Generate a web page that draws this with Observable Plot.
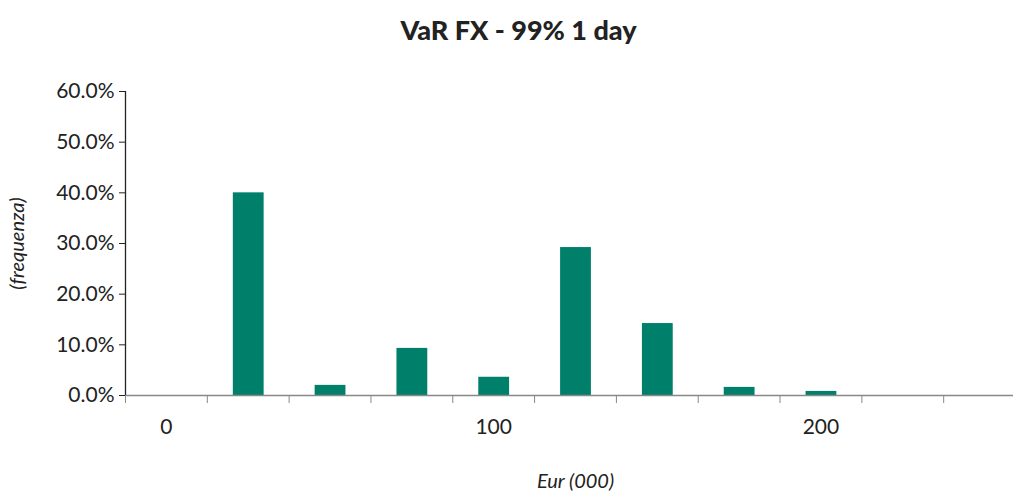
<!DOCTYPE html>
<html>
<head>
<meta charset="utf-8">
<script src="https://cdn.jsdelivr.net/npm/d3@7"></script>
<script src="https://cdn.jsdelivr.net/npm/@observablehq/plot@0.6"></script>
<style>
  html, body { margin: 0; padding: 0; background: #fff; overflow: hidden; }
  #title { height: 60px; line-height: 60px; text-align: center; font-family: Lato, sans-serif; font-weight: 900; font-size: 27px; color: #222; padding-left: 24px; box-sizing: border-box; }
  #chart svg { display: block; }
  #chart [aria-label="x-axis label"] text, #chart [aria-label="y-axis label"] text { font-style: italic; font-size: 20px; }
</style>
</head>
<body>
<div id="title">VaR FX - 99% 1 day</div>
<div id="chart"></div>
<script>
const categories = [0, 25, 50, 75, 100, 125, 150, 175, 200, 225, 250];
const frequency = [0, 0.40, 0.02, 0.093, 0.036, 0.292, 0.142, 0.016, 0.008, 0, 0];
const xTickLabels = [0, 100, 200];
const yTicks = [0, 0.1, 0.2, 0.3, 0.4, 0.5, 0.6];

const data = categories.map((c, i) => ({eur: c, freq: frequency[i]}));

const W = 1013, H = 433;
const x0 = 125, x1 = 1025;
const bw = (x1 - x0) / categories.length;

const chart = Plot.plot({
  width: W,
  height: H,
  marginTop: 31,
  marginBottom: 98,
  marginLeft: x0,
  marginRight: W - x1,
  style: {fontFamily: "Lato, sans-serif", fontSize: "21px", color: "#222", background: "#fff"},
  x: {type: "band", domain: categories, padding: 0, round: false},
  y: {domain: [0, 0.6]},
  marks: [
    Plot.barY(data, {x: "eur", y: "freq", fill: "#00806A", insetLeft: 26, insetRight: 25}),
    Plot.ruleY([0], {stroke: "#888", strokeWidth: 1.5}),
    Plot.ruleX([0], {x: () => categories[0], dx: -bw / 2, stroke: "#222", strokeWidth: 1.3, y1: 0, y2: 0.6}),
    Plot.axisY({ticks: yTicks, tickFormat: d3.format(".1%"), tickSize: 6, tickPadding: 5, stroke: "#222", fontSize: 21,
      label: "(frequenza)", labelAnchor: "center", labelArrow: false, labelOffset: 116}),
    Plot.axisX({ticks: categories, tickSize: 8, tickFormat: () => "", dx: -bw / 2, stroke: "#888", label: null}),
    Plot.axisX({ticks: xTickLabels, tickSize: 0, tickPadding: 24, fontSize: 21, tickFormat: d => String(d),
      label: "Eur (000)", labelAnchor: "center", labelArrow: false, labelOffset: 92})
  ]
});
document.getElementById("chart").appendChild(chart);
</script>
</body>
</html>
